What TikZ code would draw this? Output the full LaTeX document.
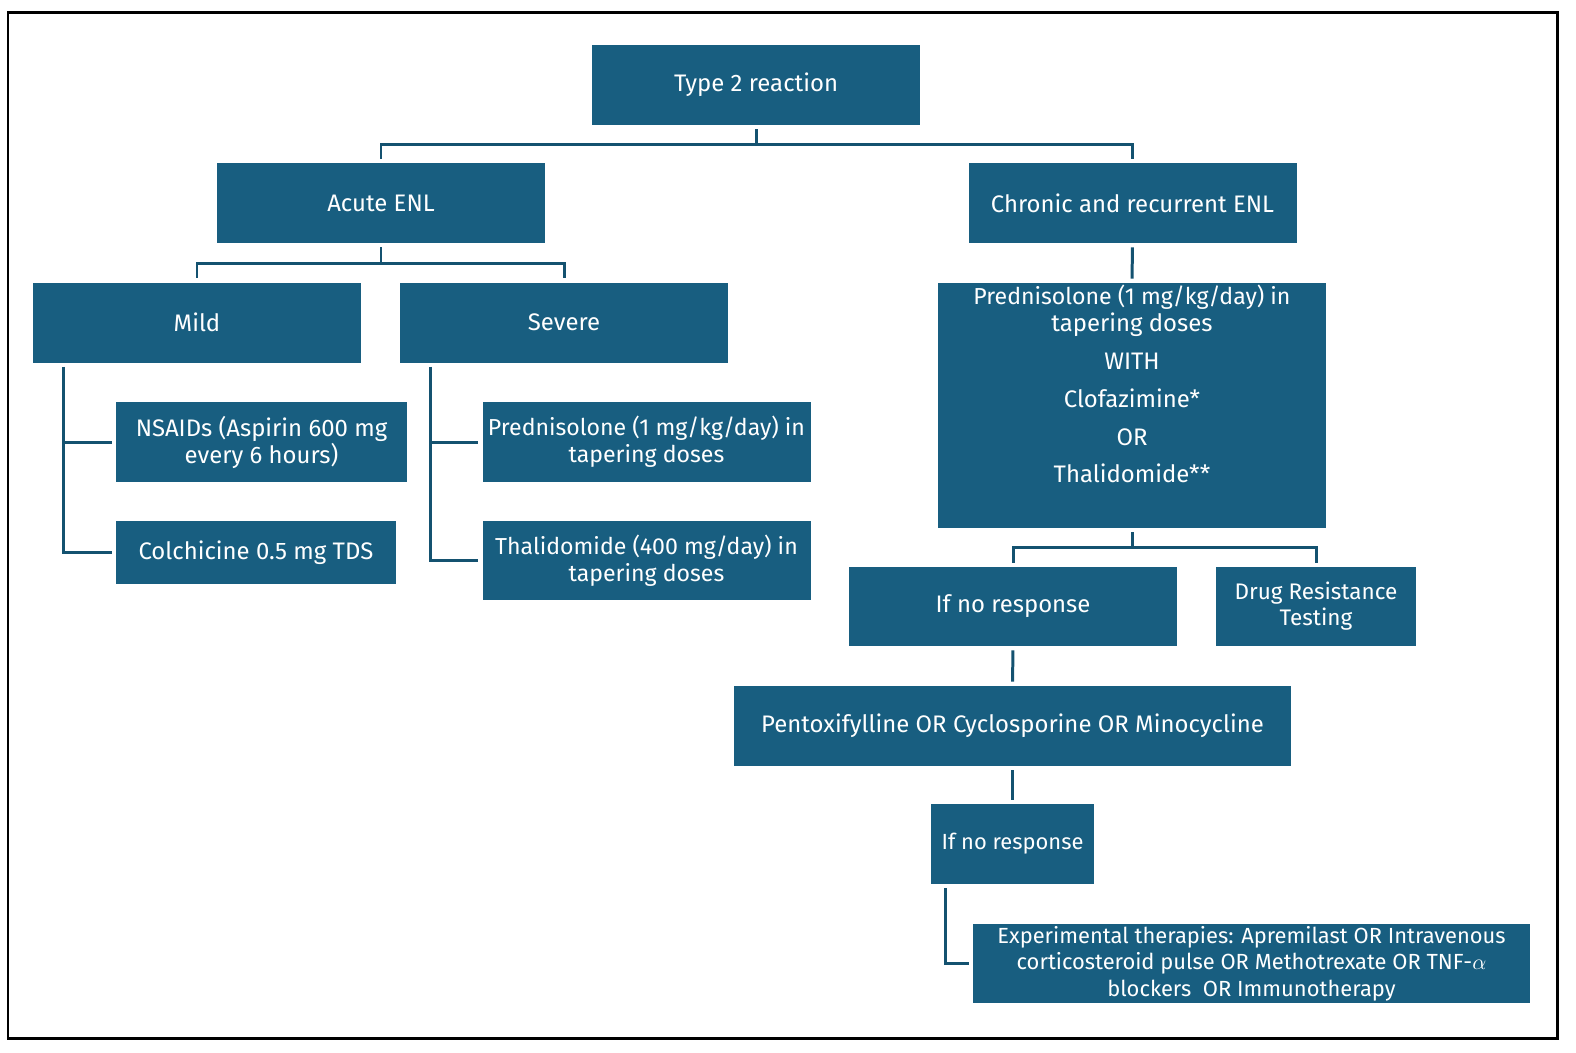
\documentclass[tikz,border=0pt]{standalone}
\usepackage{fontspec}
\setmainfont{Fira Sans}
\usepackage{amsmath}

\definecolor{enlblue}{RGB}{24,94,128}
\definecolor{linkblue}{RGB}{20,82,112}

\newcommand{\smallfs}{\fontsize{11.6}{13.5}\selectfont}

\tikzset{
    box/.style={rectangle, fill=enlblue, text=white, align=center, inner sep=0pt,
        minimum width=164bp, minimum height=40bp,
        font=\fontsize{12}{13.5}\selectfont},
    boxtext/.style={text=white, align=center, inner sep=0pt,
        font=\fontsize{12}{13.5}\selectfont},
    link/.style={draw=linkblue, line width=1.5pt, shorten <=2pt, shorten >=2pt},
}

\begin{document}
\begin{tikzpicture}[x=0.5bp, y=-0.5bp]
        \useasboundingbox (0,0) rectangle (1576,1052);
        \draw[line width=1.5pt] (8,12) rectangle (1557,1038);

        \node[box](type2)   at (756,85)      {Type 2 reaction};
        \node[box](acute)   at (381,203)     {Acute ENL};
        \node[box](chronic) at (1132.5,203)  {Chronic and recurrent ENL};
        \node[box](mild)    at (197,322.5)   {Mild};
        \node[box](severe)  at (564,322.5)   {Severe};
        \node[box, minimum width=145.5bp](nsaid) at (261.5,442)
            {NSAIDs (Aspirin 600 mg\\every 6 hours)};
        \node[box, minimum width=140bp, minimum height=31.5bp](colch) at (256,552.5)
            {Colchicine 0.5 mg TDS};
        \node[box, font=\smallfs](predS) at (646.5,442)
            {Prednisolone (1 mg/kg/day) in\\tapering doses};
        \node[box, minimum height=39.5bp, font=\smallfs](thalS) at (646.5,560.5)
            {Thalidomide (400 mg/day) in\\tapering doses};
        \node[box, minimum width=194bp, minimum height=122.5bp,
            label={[boxtext, anchor=north, yshift=-1pt]north:{{\smallfs Prednisolone (1 mg/kg/day) in}\\tapering doses\\[5.5pt]
                WITH\\[5.5pt]Clofazimine*\\[5.5pt]OR\\[5.5pt]Thalidomide**}}](predC) at (1132,405.5) {};
        \node[box, minimum height=39.5bp](noresp) at (1013,606.5) {If no response};
        \node[box, minimum width=100bp, minimum height=39.5bp,
            font=\fontsize{11.3}{13}\selectfont](drugres) at (1316,606.5)
            {Drug Resistance\\Testing};
        \node[box, minimum width=278.5bp](pentox) at (1012.5,726)
            {Pentoxifylline OR Cyclosporine OR Minocycline};
        \node[box, minimum width=81.5bp, font=\fontsize{11}{13}\selectfont](noresp2) at (1012.5,844)
            {If no response};
        \node[box, minimum width=278.5bp, minimum height=39.5bp,
            font=\fontsize{11}{13.25}\selectfont](exper) at (1251.5,963.5)
            {Experimental therapies: Apremilast OR Intravenous\\
             corticosteroid pulse OR Methotrexate OR TNF-$\alpha$\\
             blockers\ \ OR Immunotherapy};

        \draw[link] (type2.south) -- ++(0,19) -| (acute.north);
        \draw[link] (type2.south) -- ++(0,19) -| (chronic.north);
        \draw[link] (acute.south) -- ++(0,20) -| (mild.north);
        \draw[link] (acute.south) -- ++(0,20) -| (severe.north);
        \draw[link] (mild.south west) ++(31,0) |- (nsaid.west);
        \draw[link] (mild.south west) ++(31,0) |- (colch.west);
        \draw[link] (severe.south west) ++(31,0) |- (predS.west);
        \draw[link] (severe.south west) ++(31,0) |- (thalS.west);
        \draw[link] (chronic.south) -- (predC.north);
        \draw[link] (predC.south) -- ++(0,19) -| (noresp.north);
        \draw[link] (predC.south) -- ++(0,19) -| (drugres.north);
        \draw[link] (noresp.south) -- (pentox.north);
        \draw[link] (pentox.south) -- (noresp2.north);
        \draw[link] (noresp2.south west) ++(15,0) |- (exper.west);
    \end{tikzpicture}
\end{document}
